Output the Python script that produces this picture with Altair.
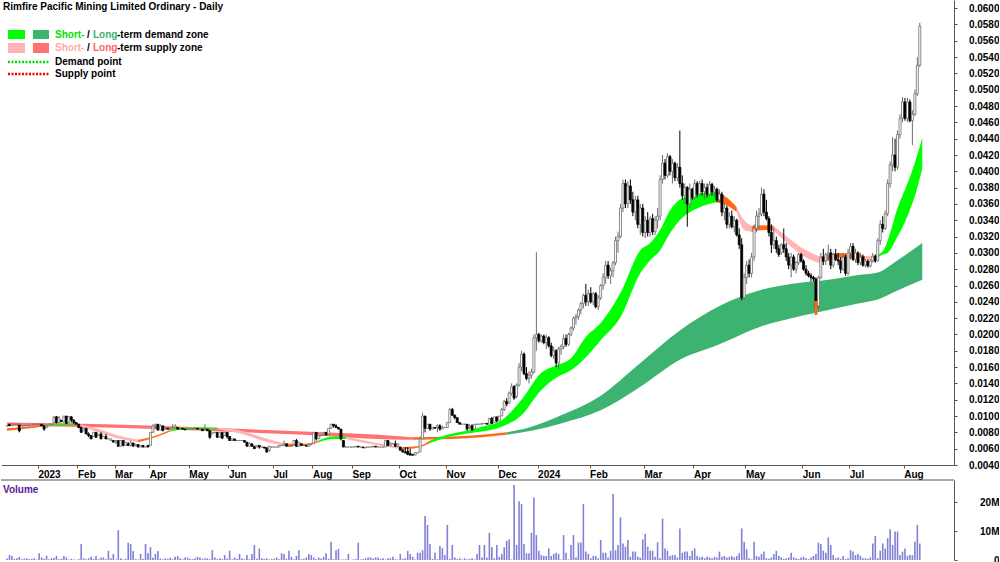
import altair as alt
import numpy as np
import pandas as pd

TITLE = "Rimfire Pacific Mining Limited Ordinary - Daily"
FONT = "Liberation Sans"

MONTH_TICKS = [12.5, 28.5, 43.5, 57.5, 73.5, 89.5, 107.5, 123.5, 139.5, 158.5, 177.5,
               198.5, 214.5, 235.5, 257.5, 277.5, 298.5, 321.5, 340.5, 362.5]
MONTH_LABELS = ["2023", "Feb", "Mar", "Apr", "May", "Jun", "Jul", "Aug", "Sep", "Oct", "Nov",
                "Dec", "2024", "Feb", "Mar", "Apr", "May", "Jun", "Jul", "Aug"]
PRICE_TICKS = [0.004, 0.006, 0.008, 0.010, 0.012, 0.014, 0.016, 0.018, 0.020, 0.022,
               0.024, 0.026, 0.028, 0.030, 0.032, 0.034, 0.036, 0.038, 0.040, 0.042,
               0.044, 0.046, 0.048, 0.050, 0.052, 0.054, 0.056, 0.058, 0.060]
VOLUME_TICKS = [0, 10, 20]

# Daily bars, prices in units of 0.0001
OPEN = [88,90,88,90,90,89,85,88,88,88, 88,90,90,90,90,88,86,88,90,92,
        99,92,95,93,100,92,99,95,92,90, 86,82,85,78,76,75,80,76,78,75,
        75,72,70,70,68,70,63,70,64,66, 64,67,64,65,62,64,62,64,64,80,
        88,90,83,88,84,85,84,85,86,86, 84,85,84,84,84,84,84,85,84,84,
        84,84,82,78,80,80,74,80,76,80, 75,70,72,70,70,70,70,68,63,66,
        63,62,64,62,62,61,58,62,62,62, 62,64,64,66,63,63,65,70,63,66,
        64,64,63,65,66,80,72,76,78,80, 78,85,90,88,86,84,70,62,62,62,
        62,62,63,62,62,61,62,62,62,63, 62,62,62,62,70,64,66,66,63,62,
        58,56,57,54,53,52,55,56,72,100, 85,90,84,86,86,88,84,86,86,92,
        108,101,98,92,90,90,90,86,88,84, 90,90,90,91,91,90,97,92,99,94,
        100,108,118,116,128,136,124,138,160,176, 152,146,150,154,196,200,192,198,190,196,
        186,174,180,165,182,185,195,188,200,208, 220,222,230,238,248,240,250,240,250,234,
        245,260,270,285,272,278,288,315,320,355, 385,360,382,365,350,365,335,355,325,340,
        325,342,326,340,345,390,410,395,418,400, 410,392,405,385,370,380,360,378,368,385,
        372,385,375,380,372,384,375,378,365,372, 350,355,335,345,332,340,322,310,245,270,
        285,275,295,330,345,348,372,350,342,325, 310,315,305,300,310,305,295,285,295,280,
        288,298,290,280,275,272,270,268,235,270, 295,290,298,300,285,298,292,290,280,295,
        275,300,308,292,300,288,295,285,290,284, 290,296,290,315,335,330,348,385,408,420,
        405,445,465,485,465,485,462,470,495,530]
HIGH = [88,90,90,90,90,89,88,88,88,88, 90,90,90,90,90,88,88,90,90,100,
        100,100,95,100,100,100,100,96,92,90, 87,86,85,80,76,80,80,78,80,75,
        78,72,72,70,70,70,70,70,68,68, 70,67,66,65,64,64,62,64,80,90,
        90,90,90,88,86,85,84,90,90,86, 84,85,84,84,84,84,85,85,84,84,
        90,84,82,80,80,80,80,80,80,80, 75,72,72,70,70,70,70,68,68,66,
        63,64,64,62,62,62,63,62,62,62, 64,64,70,66,63,63,70,72,68,66,
        64,64,65,65,80,80,76,76,80,80, 85,90,90,90,86,84,70,62,62,62,
        62,63,63,62,62,62,62,62,63,63, 62,62,62,70,70,68,66,70,66,62,
        60,62,62,60,53,55,55,75,104,100, 90,90,86,86,90,90,88,86,92,110,
        110,102,98,92,90,90,90,90,90,90, 90,90,91,91,91,98,99,99,99,100,
        110,120,122,130,140,138,140,165,180,178, 160,155,158,200,301,202,200,200,200,198,
        190,185,182,185,188,200,200,202,210,222, 225,232,240,250,262,255,258,252,252,248,
        262,275,290,290,282,290,320,326,360,390, 390,388,390,375,370,370,360,360,345,350,
        345,348,345,355,395,420,415,422,420,415, 412,410,450,395,385,382,385,380,390,388,
        388,390,385,385,388,386,382,380,378,375, 360,358,350,352,345,342,330,318,275,290,
        292,300,335,352,355,380,378,365,345,335, 330,320,310,312,330,312,300,300,298,290,
        300,300,292,285,278,275,272,270,272,300, 305,300,310,305,300,305,300,295,300,298,
        305,312,312,305,302,300,298,292,292,292, 300,298,318,340,345,352,390,412,442,440,
        450,470,491,490,490,488,475,500,540,582]
LOW = [88,88,88,90,90,80,85,88,88,88, 88,90,90,90,88,82,86,88,90,91,
       91,92,93,92,90,92,92,90,90,85, 80,82,78,74,72,75,74,76,72,75,
       72,72,70,68,66,62,63,63,64,64, 63,63,63,62,62,62,62,62,64,80,
       84,82,83,82,84,84,84,84,85,84, 84,84,83,84,84,84,84,84,84,82,
       84,82,72,78,80,73,74,72,76,72, 70,70,70,70,70,70,68,63,63,63,
       60,62,60,62,60,55,56,62,62,62, 62,64,63,63,63,63,65,62,63,64,
       64,63,63,65,66,70,72,76,76,76, 78,85,86,86,84,70,62,62,62,62,
       62,62,62,62,61,61,62,62,62,62, 62,62,62,62,63,64,66,62,63,58,
       55,54,52,52,52,52,55,56,72,80, 85,82,84,85,80,82,84,86,86,92,
       100,96,92,90,90,90,82,84,82,84, 90,90,90,91,90,90,90,92,92,94,
       100,106,112,115,125,120,122,136,155,150, 144,140,146,152,180,190,190,188,182,184,
       172,170,160,158,175,182,185,186,198,205, 212,218,225,232,235,235,238,236,232,230,
       242,255,262,268,262,270,285,300,318,350, 355,355,360,345,340,330,322,320,318,320,
       320,322,322,330,340,385,390,392,395,385, 388,388,380,365,360,332,355,365,365,368,
       370,370,365,368,370,370,368,362,362,345, 340,330,330,330,325,320,305,242,242,262,
       270,270,290,325,330,345,345,340,320,300, 305,300,295,298,300,290,280,270,278,275,
       285,288,278,272,270,265,265,224,232,268, 285,285,290,280,282,290,285,275,278,272,
       272,292,290,288,285,285,283,282,282,282, 288,288,290,310,325,328,345,380,400,400,
       402,440,460,462,460,460,432,468,492,528]
CLOSE = [88,88,90,90,90,82,88,88,88,88, 90,90,90,90,88,84,88,90,90,99,
         92,98,93,100,91,99,95,92,90,86, 80,85,78,76,72,80,74,78,72,75,
         72,72,72,68,70,63,70,64,68,64, 67,63,65,62,64,62,62,62,80,88,
         90,83,88,82,85,84,84,86,88,84, 84,84,83,84,84,84,85,84,84,82,
         84,82,74,80,80,74,80,73,80,75, 70,72,70,70,70,70,68,63,66,63,
         60,64,62,62,61,56,63,62,62,62, 64,64,66,63,63,63,70,63,68,64,
         64,63,65,65,80,72,76,76,80,77, 85,90,88,86,84,72,62,62,62,62,
         62,63,62,62,61,62,62,62,63,62, 62,62,62,70,64,66,66,63,66,58,
         56,55,53,52,52,55,55,72,100,85, 90,84,86,85,88,84,86,86,92,108,
         101,98,92,90,90,90,84,88,83,90, 90,90,91,91,90,97,91,99,94,100,
         108,118,115,128,136,122,138,160,176,152, 146,150,154,196,200,192,198,190,196,186,
         174,180,165,182,185,195,188,200,208,220, 222,230,238,248,240,250,240,250,234,245,
         260,270,285,272,278,288,315,320,355,385, 360,382,365,350,365,335,355,325,340,325,
         342,326,340,345,390,410,395,418,400,410, 392,405,385,370,380,360,378,368,385,372,
         385,375,380,372,384,375,378,365,372,350, 355,335,345,332,340,322,310,245,270,285,
         275,295,330,345,348,372,350,342,325,310, 315,305,298,310,305,295,285,295,280,288,
         298,290,280,275,272,270,268,232,270,295, 290,298,300,285,298,292,290,280,295,275,
         300,308,292,300,288,295,285,290,284,290, 296,290,315,335,330,348,385,408,420,405,
         445,465,485,465,485,462,470,495,530,578]
# Volume in millions
VOLUME_M = [0.5,1.7,1.4,0.4,0.6,1.1,0.3,0.5,0.6,0.3, 0.4,0.6,0.2,2.3,0.9,0.4,1.5,0.3,0.6,0.7,
            1.4,0.3,0.5,1.4,0.9,0.2,0.4,0.2,0.1,0.3, 5.5,0.6,0.3,0.6,1.1,0.4,1.4,0.3,0.9,0.9,
            0.3,3.2,0.6,2.1,0.2,10.3,0.6,0.2,0.4,6.0, 5.5,3.1,0.3,0.2,2.1,0.4,5.5,2.3,4.4,0.8,
            2.1,3.1,0.5,0.3,0.6,0.4,0.8,0.3,1.1,1.4, 0.6,0.3,0.9,0.9,0.4,0.3,0.6,1.1,0.9,0.4,
            0.6,0.6,0.3,3.4,0.9,0.3,0.6,0.3,1.7,0.5, 3.2,0.3,0.9,0.4,2.1,0.5,0.3,1.7,0.3,2.1,
            5.2,0.4,4.0,0.6,0.4,0.6,0.2,0.3,0.4,0.9, 0.3,2.3,2.1,0.4,3.2,1.1,0.3,1.4,3.4,0.3,
            0.4,0.9,2.1,1.7,0.9,0.3,0.9,0.5,1.1,2.3, 0.4,6.3,0.3,3.4,3.8,0.2,0.2,0.3,2.1,0.1,
            0.2,0.3,6.0,0.2,0.3,0.6,0.9,0.9,0.5,0.9, 0.9,0.4,0.6,0.2,0.6,0.6,1.1,0.3,0.2,2.1,
            0.4,0.6,3.1,2.1,1.1,0.2,2.5,2.5,3.4,15.2, 12.1,5.5,0.4,2.5,0.3,4.8,4.1,1.7,12.1,0.4,
            5.2,0.9,0.3,0.6,0.2,0.6,0.3,0.4,0.6,0.2, 2.1,5.2,0.9,5.2,0.9,9.4,4.4,0.6,5.2,1.1,
            2.1,4.4,6.6,7.1,0.2,25.9,5.2,20.3,19.3,5.5, 2.3,2.3,9.4,21.6,8.6,3.2,1.7,1.4,1.4,4.0,
            1.4,2.1,2.5,2.1,0.2,8.6,2.5,0.2,5.2,8.6, 0.9,6.0,6.0,19.3,2.9,2.1,0.6,1.4,1.4,0.6,
            6.9,2.5,2.5,0.9,3.2,22.8,3.4,5.2,14.7,5.7, 4.6,6.9,1.1,2.9,2.9,1.1,0.8,7.1,9.0,4.6,
            3.2,3.2,1.1,6.1,0.6,14.3,4.0,3.2,1.4,1.7, 1.7,0.9,10.9,2.5,2.9,2.9,1.4,3.2,4.0,1.4,
            0.9,1.1,0.6,1.1,0.9,0.6,1.1,0.9,2.9,1.1, 1.4,0.9,1.1,1.4,0.9,1.4,2.3,10.9,6.3,3.7,
            0.6,0.2,6.3,1.4,1.1,2.1,2.9,0.6,0.4,0.9, 2.1,3.2,1.4,0.9,0.4,0.6,0.9,2.5,0.9,0.6,
            0.4,0.9,1.1,0.6,0.3,0.9,1.4,2.1,6.0,5.5, 3.2,2.5,7.8,5.2,1.7,0.6,0.9,0.4,1.4,0.3,
            0.6,3.4,2.9,1.7,2.1,1.4,0.6,0.6,0.4,0.9, 5.7,8.3,0.6,3.2,5.7,4.0,7.5,10.6,5.2,9.8,
            9.8,1.7,2.9,4.0,1.4,1.7,1.7,6.3,12.1,5.7]

# Long-term zone (bar position, upper, lower, state) ; s=supply, t=turning, d=demand
LT_X = [0, 40, 80, 120, 160, 164, 180, 192, 202, 212, 224, 240, 256, 272, 288, 304, 320, 332, 344, 352, 360, 370]
LT_HI = [92, 90, 86, 81, 75, 74, 75, 77, 80, 87, 101, 125, 165, 205, 235, 254, 263, 267, 273, 276, 291, 312]
LT_LO = [88, 86, 82, 77, 71, 71, 72, 74, 77, 82, 91, 107, 136, 169, 188, 209, 222, 230, 238, 243, 254, 267]
LT_STATE = list("ssssstttdddddddddddddd")

# Short-term zone
ST_X = [0, 12, 16, 22, 28, 36, 44, 53, 60, 66, 74, 85, 96, 104, 113, 120, 126, 132, 137, 148,
        160, 166, 171, 178, 187, 192, 200, 208, 216, 222, 228, 234, 240, 248, 256, 260, 264, 268, 272, 280,
        287, 291, 295, 298, 301, 306, 310, 316, 322, 329, 336, 342, 347, 351, 354, 356, 360, 364, 368, 370]
ST_HI = [85, 88, 90, 91, 91, 85, 77, 71, 76, 83, 86, 86, 81, 73, 66, 66, 70, 75, 75, 68,
         62, 63, 70, 77, 83, 87, 95, 120, 153, 162, 171, 197, 214, 251, 303, 312, 328, 352, 365, 373,
         375, 368, 356, 340, 333, 334, 333, 318, 305, 295, 300, 299, 296, 297, 302, 315, 355, 385, 420, 441]
ST_LO = [82, 86, 88, 89, 89, 81, 73, 68, 74, 81, 84, 84, 77, 69, 63, 64, 68, 72, 72, 65,
         59, 61, 67, 74, 79, 81, 87, 101, 132, 147, 156, 172, 193, 221, 275, 291, 303, 324, 340, 356,
         362, 358, 350, 328, 326, 328, 327, 310, 296, 287, 294, 293, 291, 292, 298, 300, 320, 345, 380, 403]
ST_STATE = list("ttddsssttd" "dsssttddss" "ttdddddddd" "dddddddddd" "ttssttssst" "ttsddddddd")

ORANGE_BAR_I = [327]
ORANGE_BAR_LO = [224]
ORANGE_BAR_HI = [241]

LT_COL = {"s": "#ff7272", "t": "#ff6a1a", "d": "#3cb371"}
ST_COL = {"s": "#ffb5b5", "t": "#ff6a1a", "d": "#00ff00"}

W, H, VH = 953, 465, 80


def band_frame(xs, his, los, states, pal):
    rows = []
    start, run, n = 0, 0, len(xs)
    for k in range(1, n):
        if k == n - 1 or states[k] != states[start]:
            for j in range(start, k + 1):
                rows.append({"i": xs[j], "hi": his[j] / 1e4, "lo": los[j] / 1e4,
                             "run": run, "col": pal[states[start]]})
            run += 1
            start = k
    return pd.DataFrame(rows)


bars = pd.DataFrame({
    "i": np.arange(len(CLOSE)),
    "open": np.array(OPEN) / 1e4, "high": np.array(HIGH) / 1e4,
    "low": np.array(LOW) / 1e4, "close": np.array(CLOSE) / 1e4,
})
bars["dir"] = np.where(bars["close"] >= bars["open"], "up", "down")
vol_df = pd.DataFrame({"i": np.arange(len(VOLUME_M)), "vol": VOLUME_M})
orange_df = pd.DataFrame({"i": ORANGE_BAR_I, "low": np.array(ORANGE_BAR_LO) / 1e4,
                          "high": np.array(ORANGE_BAR_HI) / 1e4})

lt_df = band_frame(LT_X, LT_HI, LT_LO, LT_STATE, LT_COL)
st_df = band_frame(ST_X, ST_HI, ST_LO, ST_STATE, ST_COL)

label_expr = "[" + ",".join("'%s'" % s for s in MONTH_LABELS) + "][indexof([" + \
    ",".join(str(v) for v in MONTH_TICKS) + "], datum.value)]"

X_SCALE = alt.Scale(domain=[-0.4, 380.8], nice=False, zero=False)
Y_SCALE = alt.Scale(domain=[0.004, 0.061], nice=False, zero=False)

x_axis = alt.Axis(values=MONTH_TICKS, labelExpr=label_expr, title=None, grid=False, tickSize=3,
                  tickColor="#555", domainColor="#555", labelAlign="left", labelBaseline="top",
                  labelPadding=1, labelFontWeight="bold", labelFontSize=10,
                  labelColor="#000", labelFont=FONT, labelOverlap=False, labelFlush=False)
y_axis = alt.Axis(orient="right", values=PRICE_TICKS, format=".4f", title=None, grid=False,
                  tickSize=3, labelAlign="right", labelPadding=42, labelFontWeight="bold",
                  labelFontSize=10, labelColor="#000", labelFont=FONT, domainColor="#555",
                  tickColor="#555", labelOverlap=False, labelFlush=False)

X = alt.X("i:Q", scale=X_SCALE, axis=x_axis)
DIR_FILL = alt.Scale(domain=["up", "down"], range=["#ffffff", "#000000"])
DIR_STROKE = alt.Scale(domain=["up", "down"], range=["#6e6e6e", "#000000"])

lt_layer = alt.Chart(lt_df).mark_area(interpolate="monotone").encode(
    x=X, y=alt.Y("hi:Q", scale=Y_SCALE, axis=y_axis), y2="lo:Q",
    color=alt.Color("col:N", scale=None), detail="run:N")
st_layer = alt.Chart(st_df).mark_area(interpolate="monotone").encode(
    x=X, y=alt.Y("hi:Q", scale=Y_SCALE, axis=y_axis), y2="lo:Q",
    color=alt.Color("col:N", scale=None), detail="run:N")
wicks = alt.Chart(bars).mark_rule(strokeWidth=1).encode(
    x=X, y=alt.Y("low:Q", scale=Y_SCALE, axis=y_axis), y2="high:Q",
    color=alt.Color("dir:N", scale=DIR_STROKE, legend=None))
bodies = alt.Chart(bars).mark_bar(width=2, strokeWidth=0.8).encode(
    x=X, y=alt.Y("open:Q", scale=Y_SCALE, axis=y_axis), y2="close:Q",
    fill=alt.Fill("dir:N", scale=DIR_FILL, legend=None),
    stroke=alt.Stroke("dir:N", scale=DIR_STROKE, legend=None))
orange = alt.Chart(orange_df).mark_bar(width=3, color="#ff6a1a").encode(
    x=X, y=alt.Y("low:Q", scale=Y_SCALE, axis=y_axis), y2="high:Q")

one = pd.DataFrame({"a": [0]})
title = alt.Chart(one).mark_text(text=TITLE, font=FONT, fontSize=10, fontWeight="bold",
                                 align="left", baseline="middle", color="#000").encode(
    x=alt.value(2), y=alt.value(7))

sw_df = pd.DataFrame({"x1": [7, 32, 7, 32], "x2": [24, 48, 24, 48],
                      "y1": [30, 30, 43, 43], "y2": [39, 39, 53, 53],
                      "c": ["#00ff00", "#3cb371", "#ffb5b5", "#ff7272"]})
swatches = alt.Chart(sw_df).mark_rect().encode(
    x=alt.X("x1:Q", scale=None), x2="x2:Q", y=alt.Y("y1:Q", scale=None), y2="y2:Q",
    color=alt.Color("c:N", scale=None))
dot_df = pd.DataFrame({"x1": [7, 7], "x2": [48, 48], "y": [62, 74], "c": ["#00dd00", "#ee0000"]})
dots = alt.Chart(dot_df).mark_rule(strokeWidth=2.5, strokeDash=[2, 1.5]).encode(
    x=alt.X("x1:Q", scale=None), x2="x2:Q", y=alt.Y("y:Q", scale=None),
    color=alt.Color("c:N", scale=None))
lt_df_text = pd.DataFrame({
    "x": [54, 86, 92, 116, 54, 86, 92, 116, 54, 54],
    "y": [35, 35, 35, 35, 48, 48, 48, 48, 62, 74],
    "t": ["Short-", "/", "Long", "-term demand zone", "Short-", "/", "Long",
          "-term supply zone", "Demand point", "Supply point"],
    "c": ["#00e400", "#000000", "#3cb371", "#000000", "#ffaaaa", "#000000", "#ff6464",
          "#000000", "#000000", "#000000"]})
legend_text = alt.Chart(lt_df_text).mark_text(font=FONT, fontSize=10, fontWeight="bold",
                                              align="left", baseline="middle").encode(
    x=alt.X("x:Q", scale=None), y=alt.Y("y:Q", scale=None), text="t:N",
    color=alt.Color("c:N", scale=None))

price = alt.layer(lt_layer, st_layer, wicks, bodies, orange, title, swatches, dots,
                  legend_text).properties(width=W, height=H)

vol_axis = alt.Axis(orient="right", values=VOLUME_TICKS, title=None, grid=False, tickSize=3,
                    labelExpr="datum.value == 0 ? '0' : datum.value + 'M'",
                    labelAlign="right", labelPadding=42, labelFontWeight="bold",
                    labelFontSize=10, labelColor="#000", labelFont=FONT, domainColor="#555",
                    tickColor="#555", labelOverlap=False, labelFlush=False)
vbars = alt.Chart(vol_df).mark_bar(width=1.6, color="#8080d6").encode(
    x=alt.X("i:Q", scale=X_SCALE, axis=None),
    y=alt.Y("vol:Q", scale=alt.Scale(domain=[0, 27.6], nice=False), axis=vol_axis))
vtop = alt.Chart(one).mark_rule(color="#555", strokeWidth=1).encode(
    x=alt.value(0), x2=alt.value(W), y=alt.value(0))
vlabel = alt.Chart(one).mark_text(text="Volume", font=FONT, fontSize=10, fontWeight="bold",
                                  align="left", baseline="middle", color="#5a1a96").encode(
    x=alt.value(2), y=alt.value(10))
volume = alt.layer(vbars, vtop, vlabel).properties(width=W, height=VH)

chart = alt.vconcat(price, volume, spacing=15, bounds="flush").properties(
    padding=0).configure_view(strokeWidth=0)

chart.save("out.html", embed_options={"renderer": "svg", "actions": False})
